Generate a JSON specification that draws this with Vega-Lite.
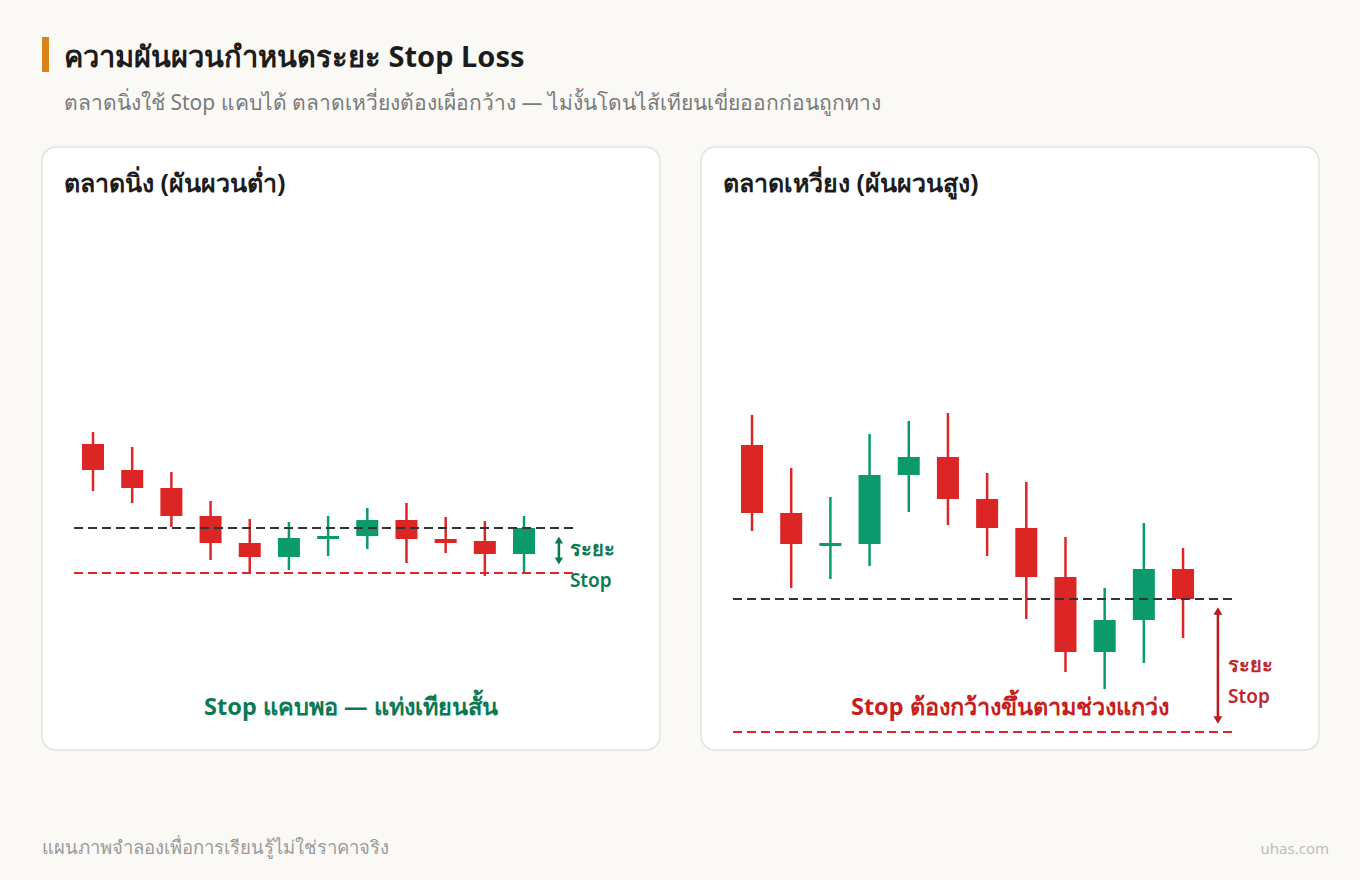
{
  "$schema": "https://vega.github.io/schema/vega-lite/v6.json",
  "background": "#faf9f6",
  "padding": {"left": 41, "top": 0, "right": 0, "bottom": 0},
  "spacing": 0,
  "config": {
    "font": "Noto Sans",
    "axis": {"disable": true},
    "legend": {"disable": true},
    "view": {"stroke": null}
  },
  "datasets": {
    "left": [
      {"i": 1, "open": 108.4, "high": 109.6, "low": 103.7, "close": 105.8, "dir": "down"},
      {"i": 2, "open": 105.8, "high": 108.1, "low": 102.5, "close": 104.0, "dir": "down"},
      {"i": 3, "open": 104.0, "high": 105.6, "low": 100.1, "close": 101.2, "dir": "down"},
      {"i": 4, "open": 101.2, "high": 102.7, "low": 96.8, "close": 98.5, "dir": "down"},
      {"i": 5, "open": 98.5, "high": 100.9, "low": 95.5, "close": 97.1, "dir": "down"},
      {"i": 6, "open": 97.1, "high": 100.6, "low": 95.8, "close": 99.0, "dir": "up"},
      {"i": 7, "open": 98.9, "high": 101.2, "low": 97.2, "close": 99.2, "dir": "up"},
      {"i": 8, "open": 99.2, "high": 102.0, "low": 97.9, "close": 100.8, "dir": "up"},
      {"i": 9, "open": 100.8, "high": 102.5, "low": 96.5, "close": 98.9, "dir": "down"},
      {"i": 10, "open": 98.9, "high": 101.1, "low": 97.5, "close": 98.5, "dir": "down"},
      {"i": 11, "open": 98.7, "high": 100.7, "low": 95.2, "close": 97.4, "dir": "down"},
      {"i": 12, "open": 97.4, "high": 101.2, "low": 95.5, "close": 100.0, "dir": "up"}
    ],
    "right": [
      {"i": 1, "open": 115.4, "high": 118.4, "low": 106.8, "close": 108.6, "dir": "down"},
      {"i": 2, "open": 108.6, "high": 113.1, "low": 101.1, "close": 105.5, "dir": "down"},
      {"i": 3, "open": 105.3, "high": 110.2, "low": 102.0, "close": 105.6, "dir": "up"},
      {"i": 4, "open": 105.5, "high": 116.5, "low": 103.3, "close": 112.4, "dir": "up"},
      {"i": 5, "open": 112.4, "high": 117.8, "low": 108.7, "close": 114.2, "dir": "up"},
      {"i": 6, "open": 114.2, "high": 118.6, "low": 107.4, "close": 110.0, "dir": "down"},
      {"i": 7, "open": 110.0, "high": 112.6, "low": 104.3, "close": 107.1, "dir": "down"},
      {"i": 8, "open": 107.1, "high": 111.7, "low": 98.0, "close": 102.2, "dir": "down"},
      {"i": 9, "open": 102.2, "high": 106.2, "low": 92.7, "close": 94.7, "dir": "down"},
      {"i": 10, "open": 94.7, "high": 101.1, "low": 91.0, "close": 97.9, "dir": "up"},
      {"i": 11, "open": 97.9, "high": 107.6, "low": 93.6, "close": 103.0, "dir": "up"},
      {"i": 12, "open": 103.0, "high": 105.1, "low": 96.1, "close": 100.0, "dir": "down"}
    ]
  },
  "vconcat": [
    {
      "width": 1318,
      "height": 146,
      "data": {"values": [{}]},
      "layer": [
        {
          "mark": {"type": "rect", "color": "#d9821a"},
          "encoding": {
            "x": {"datum": 0, "type": "quantitative", "scale": {"domain": [0, 1], "nice": false, "zero": false}},
            "x2": {"datum": 0.00531},
            "y": {"datum": 0.2534, "type": "quantitative", "scale": {"domain": [0, 1], "nice": false, "zero": false, "reverse": true}},
            "y2": {"datum": 0.4932}
          }
        },
        {
          "mark": {"type": "text", "text": "ความผันผวนกำหนดระยะ Stop Loss", "align": "left", "baseline": "alphabetic", "fontSize": 29, "fontWeight": "bold", "color": "#1c1c1c"},
          "encoding": {"x": {"datum": 0.01669, "type": "quantitative"}, "y": {"datum": 0.4589, "type": "quantitative"}}
        },
        {
          "mark": {"type": "text", "text": "ตลาดนิ่งใช้ Stop แคบได้ ตลาดเหวี่ยงต้องเผื่อกว้าง — ไม่งั้นโดนไส้เทียนเขี่ยออกก่อนถูกทาง", "align": "left", "baseline": "alphabetic", "fontSize": 21, "color": "#7a7a7a"},
          "encoding": {"x": {"datum": 0.01669, "type": "quantitative"}, "y": {"datum": 0.753, "type": "quantitative"}}
        }
      ]
    },
    {
      "hconcat": [
        {
          "width": 618,
          "height": 603,
          "data": {"values": [{}]},
          "view": {"fill": "#ffffff", "stroke": "#e4e2de", "strokeWidth": 1.5, "cornerRadius": 14},
          "layer": [
            {
              "data": {"name": "left"},
              "mark": {"type": "rule", "strokeWidth": 2.5},
              "encoding": {
                "x": {"field": "i", "type": "quantitative", "scale": {"domain": [-0.302, 15.47], "nice": false, "zero": false, "padding": 0}},
                "y": {"field": "low", "type": "quantitative", "scale": {"domain": [77.8, 138.1], "nice": false, "zero": false, "padding": 0}},
                "y2": {"field": "high"},
                "color": {"field": "dir", "type": "nominal", "scale": {"domain": ["up", "down"], "range": ["#0a9a6c", "#dc2626"]}}
              }
            },
            {
              "data": {"name": "left"},
              "mark": {"type": "bar", "width": 22},
              "encoding": {
                "x": {"field": "i", "type": "quantitative"},
                "y": {"field": "open", "type": "quantitative"},
                "y2": {"field": "close"},
                "color": {"field": "dir", "type": "nominal"}
              }
            },
            {
              "mark": {"type": "rule", "strokeDash": [9, 5], "strokeWidth": 2.2, "color": "#333333"},
              "encoding": {"x": {"datum": 0.515}, "x2": {"datum": 13.28}, "y": {"datum": 100}}
            },
            {
              "mark": {"type": "rule", "strokeDash": [9, 5], "strokeWidth": 2.2, "color": "#dc2626"},
              "encoding": {"x": {"datum": 0.515}, "x2": {"datum": 13.28}, "y": {"datum": 95.5}}
            },
            {
              "mark": {"type": "rule", "strokeWidth": 2.5, "color": "#0b7a52"},
              "encoding": {"x": {"datum": 12.89}, "y": {"datum": 98.8}, "y2": {"datum": 96.7}}
            },
            {
              "mark": {"type": "point", "shape": "triangle-up", "filled": true, "size": 70, "opacity": 1, "color": "#0b7a52", "yOffset": 4},
              "encoding": {"x": {"datum": 12.89}, "y": {"datum": 99.2}}
            },
            {
              "mark": {"type": "point", "shape": "triangle-down", "filled": true, "size": 70, "opacity": 1, "color": "#0b7a52", "yOffset": -4},
              "encoding": {"x": {"datum": 12.89}, "y": {"datum": 96.3}}
            },
            {
              "mark": {"type": "text", "text": "ระยะ", "align": "left", "baseline": "alphabetic", "fontSize": 20, "fontWeight": "bold", "color": "#0b7a52"},
              "encoding": {"x": {"datum": 13.17}, "y": {"datum": 97.2}}
            },
            {
              "mark": {"type": "text", "text": "Stop", "align": "left", "baseline": "alphabetic", "fontSize": 19, "fontWeight": 600, "color": "#0b7a52"},
              "encoding": {"x": {"datum": 13.17}, "y": {"datum": 94.1}}
            },
            {
              "mark": {"type": "text", "text": "ตลาดนิ่ง (ผันผวนต่ำ)", "align": "left", "baseline": "alphabetic", "fontSize": 25, "fontWeight": "bold", "color": "#1c1c1c"},
              "encoding": {"x": {"datum": 0.26}, "y": {"datum": 133.6}}
            },
            {
              "mark": {"type": "text", "text": "Stop แคบพอ — แท่งเทียนสั้น", "align": "center", "baseline": "alphabetic", "fontSize": 23.5, "fontWeight": "bold", "color": "#0b7a52"},
              "encoding": {"x": {"datum": 7.58}, "y": {"datum": 81.3}}
            }
          ]
        },
        {
          "width": 618,
          "height": 603,
          "data": {"values": [{}]},
          "view": {"fill": "#ffffff", "stroke": "#e4e2de", "strokeWidth": 1.5, "cornerRadius": 14},
          "layer": [
            {
              "data": {"name": "right"},
              "mark": {"type": "rule", "strokeWidth": 2.5},
              "encoding": {
                "x": {"field": "i", "type": "quantitative", "scale": {"domain": [-0.302, 15.47], "nice": false, "zero": false, "padding": 0}},
                "y": {"field": "low", "type": "quantitative", "scale": {"domain": [84.9, 145.2], "nice": false, "zero": false, "padding": 0}},
                "y2": {"field": "high"},
                "color": {"field": "dir", "type": "nominal", "scale": {"domain": ["up", "down"], "range": ["#0a9a6c", "#dc2626"]}}
              }
            },
            {
              "data": {"name": "right"},
              "mark": {"type": "bar", "width": 22},
              "encoding": {
                "x": {"field": "i", "type": "quantitative"},
                "y": {"field": "open", "type": "quantitative"},
                "y2": {"field": "close"},
                "color": {"field": "dir", "type": "nominal"}
              }
            },
            {
              "mark": {"type": "rule", "strokeDash": [9, 5], "strokeWidth": 2.2, "color": "#333333"},
              "encoding": {"x": {"datum": 0.515}, "x2": {"datum": 13.28}, "y": {"datum": 100}}
            },
            {
              "mark": {"type": "rule", "strokeDash": [9, 5], "strokeWidth": 2.2, "color": "#dc2626"},
              "encoding": {"x": {"datum": 0.515}, "x2": {"datum": 13.28}, "y": {"datum": 86.7}}
            },
            {
              "mark": {"type": "rule", "strokeWidth": 2.5, "color": "#b91c1c"},
              "encoding": {"x": {"datum": 12.89}, "y": {"datum": 98.8}, "y2": {"datum": 87.9}}
            },
            {
              "mark": {"type": "point", "shape": "triangle-up", "filled": true, "size": 80, "opacity": 1, "color": "#b91c1c", "yOffset": 4},
              "encoding": {"x": {"datum": 12.89}, "y": {"datum": 99.2}}
            },
            {
              "mark": {"type": "point", "shape": "triangle-down", "filled": true, "size": 80, "opacity": 1, "color": "#b91c1c", "yOffset": -4},
              "encoding": {"x": {"datum": 12.89}, "y": {"datum": 87.5}}
            },
            {
              "mark": {"type": "text", "text": "ระยะ", "align": "left", "baseline": "alphabetic", "fontSize": 20, "fontWeight": "bold", "color": "#c0262d"},
              "encoding": {"x": {"datum": 13.15}, "y": {"datum": 92.7}}
            },
            {
              "mark": {"type": "text", "text": "Stop", "align": "left", "baseline": "alphabetic", "fontSize": 19, "fontWeight": 600, "color": "#c0262d"},
              "encoding": {"x": {"datum": 13.15}, "y": {"datum": 89.6}}
            },
            {
              "mark": {"type": "text", "text": "ตลาดเหวี่ยง (ผันผวนสูง)", "align": "left", "baseline": "alphabetic", "fontSize": 25, "fontWeight": "bold", "color": "#1c1c1c"},
              "encoding": {"x": {"datum": 0.26}, "y": {"datum": 140.7}}
            },
            {
              "mark": {"type": "text", "text": "Stop ต้องกว้างขึ้นตามช่วงแกว่ง", "align": "center", "baseline": "alphabetic", "fontSize": 23.5, "fontWeight": "bold", "color": "#c81e1e"},
              "encoding": {"x": {"datum": 7.58}, "y": {"datum": 88.4}}
            }
          ]
        }
      ],
      "spacing": 39
    },
    {
      "width": 1318,
      "height": 130,
      "data": {"values": [{}]},
      "layer": [
        {
          "mark": {"type": "text", "text": "แผนภาพจำลองเพื่อการเรียนรู้ไม่ใช่ราคาจริง", "align": "left", "baseline": "alphabetic", "fontSize": 18.5, "color": "#9a9a9a"},
          "encoding": {
            "x": {"datum": 0, "type": "quantitative", "scale": {"domain": [0, 1], "nice": false, "zero": false}},
            "y": {"datum": 0.792, "type": "quantitative", "scale": {"domain": [0, 1], "nice": false, "zero": false, "reverse": true}}
          }
        },
        {
          "mark": {"type": "text", "text": "uhas.com", "align": "right", "baseline": "alphabetic", "fontSize": 15, "color": "#bdbdbd"},
          "encoding": {"x": {"datum": 0.9765, "type": "quantitative"}, "y": {"datum": 0.792, "type": "quantitative"}}
        }
      ]
    }
  ]
}
